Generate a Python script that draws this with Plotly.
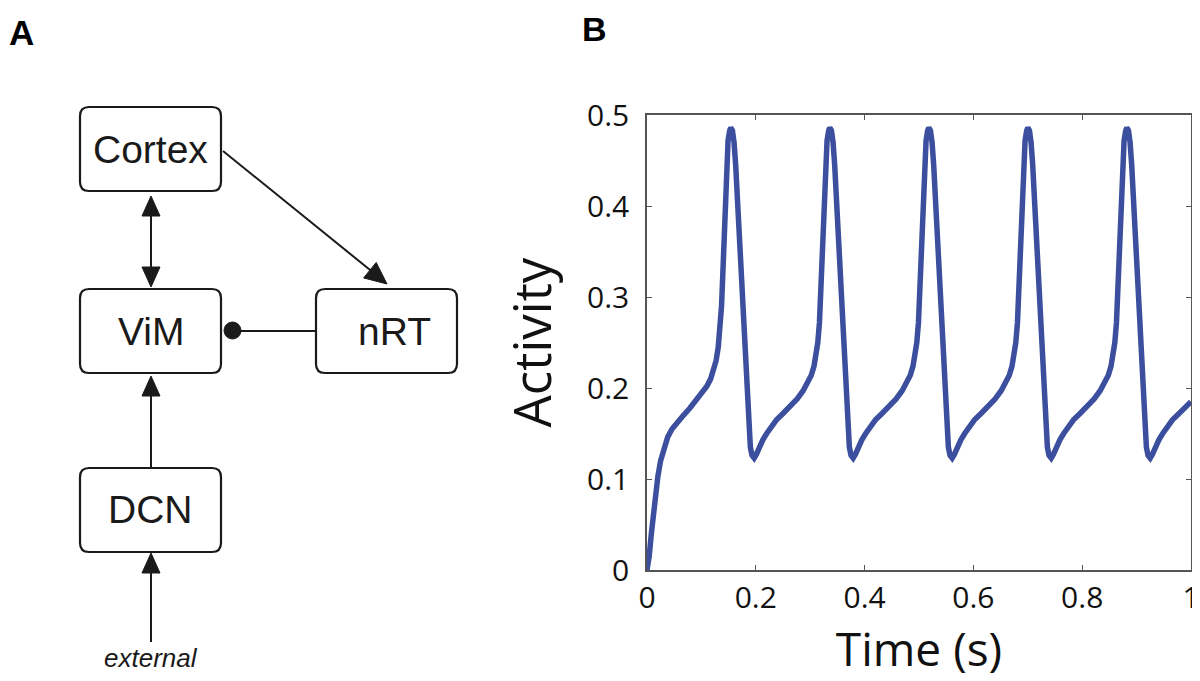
"""
Figura: A) esquema del circuito cerebelo-tálamo-cortical, B) actividad de ViM en el tiempo
"""

import plotly.graph_objects as go

W, H = 1200, 681
OFF = 8  # margen del <body> en la página

# ---- datos del panel B ----
time_s = [
    0.000, 0.004, 0.008, 0.012, 0.016, 0.020, 0.025, 0.031, 0.038, 0.046,
    0.056, 0.067, 0.079, 0.091, 0.102, 0.110, 0.117, 0.122, 0.127, 0.131,
    0.134, 0.137, 0.139, 0.1415, 0.144, 0.1465, 0.149, 0.152, 0.154, 0.157,
    0.160, 0.163, 0.167, 0.171, 0.175, 0.179, 0.183, 0.187, 0.190, 0.193,
    0.197, 0.201, 0.206, 0.213, 0.220, 0.229, 0.238, 0.250, 0.263, 0.276,
    0.287, 0.295, 0.302, 0.307, 0.311, 0.314, 0.317, 0.319, 0.321, 0.323,
    0.326, 0.3285, 0.331, 0.334, 0.336, 0.339, 0.342, 0.345, 0.349, 0.353,
    0.357, 0.361, 0.365, 0.369, 0.372, 0.375, 0.379, 0.383, 0.388, 0.395,
    0.402, 0.411, 0.420, 0.432, 0.445, 0.458, 0.469, 0.477, 0.484, 0.489,
    0.493, 0.496, 0.499, 0.501, 0.503, 0.505, 0.508, 0.5105, 0.513, 0.516,
    0.518, 0.521, 0.524, 0.527, 0.531, 0.535, 0.539, 0.543, 0.547, 0.551,
    0.554, 0.557, 0.561, 0.565, 0.570, 0.577, 0.584, 0.593, 0.602, 0.614,
    0.627, 0.640, 0.651, 0.659, 0.666, 0.671, 0.675, 0.678, 0.681, 0.683,
    0.685, 0.687, 0.690, 0.6925, 0.695, 0.698, 0.700, 0.703, 0.706, 0.709,
    0.713, 0.717, 0.721, 0.725, 0.729, 0.733, 0.736, 0.739, 0.743, 0.747,
    0.752, 0.759, 0.766, 0.775, 0.784, 0.796, 0.809, 0.822, 0.833, 0.841,
    0.848, 0.853, 0.857, 0.860, 0.863, 0.865, 0.867, 0.869, 0.872, 0.8745,
    0.877, 0.880, 0.882, 0.885, 0.888, 0.891, 0.895, 0.899, 0.903, 0.907,
    0.911, 0.915, 0.918, 0.921, 0.925, 0.929, 0.934, 0.941, 0.948, 0.957,
    0.966, 0.978, 0.991, 1.000,
]
activity = [
    0.000, 0.015, 0.040, 0.062, 0.085, 0.103, 0.120, 0.134, 0.146, 0.155,
    0.163, 0.170, 0.178, 0.187, 0.195, 0.202, 0.210, 0.218, 0.230, 0.245,
    0.265, 0.290, 0.320, 0.360, 0.405, 0.450, 0.472, 0.483, 0.486, 0.483,
    0.470, 0.445, 0.400, 0.355, 0.300, 0.245, 0.195, 0.155, 0.135, 0.126,
    0.123, 0.127, 0.135, 0.143, 0.150, 0.158, 0.165, 0.172, 0.180, 0.188,
    0.197, 0.205, 0.214, 0.224, 0.236, 0.250, 0.272, 0.300, 0.330, 0.360,
    0.405, 0.450, 0.472, 0.483, 0.486, 0.483, 0.470, 0.445, 0.400, 0.355,
    0.300, 0.245, 0.195, 0.155, 0.135, 0.126, 0.123, 0.127, 0.135, 0.143,
    0.150, 0.158, 0.165, 0.172, 0.180, 0.188, 0.197, 0.205, 0.214, 0.224,
    0.236, 0.250, 0.272, 0.300, 0.330, 0.360, 0.405, 0.450, 0.472, 0.483,
    0.486, 0.483, 0.470, 0.445, 0.400, 0.355, 0.300, 0.245, 0.195, 0.155,
    0.135, 0.126, 0.123, 0.127, 0.135, 0.143, 0.150, 0.158, 0.165, 0.172,
    0.180, 0.188, 0.197, 0.205, 0.214, 0.224, 0.236, 0.250, 0.272, 0.300,
    0.330, 0.360, 0.405, 0.450, 0.472, 0.483, 0.486, 0.483, 0.470, 0.445,
    0.400, 0.355, 0.300, 0.245, 0.195, 0.155, 0.135, 0.126, 0.123, 0.127,
    0.135, 0.143, 0.150, 0.158, 0.165, 0.172, 0.180, 0.188, 0.197, 0.205,
    0.214, 0.224, 0.236, 0.250, 0.272, 0.300, 0.330, 0.360, 0.405, 0.450,
    0.472, 0.483, 0.486, 0.483, 0.470, 0.445, 0.400, 0.355, 0.300, 0.245,
    0.195, 0.155, 0.135, 0.126, 0.123, 0.127, 0.135, 0.143, 0.150, 0.158,
    0.165, 0.172, 0.180, 0.185,
]
x_ticks = [0, 0.2, 0.4, 0.6, 0.8, 1]
x_ticktext = ["0", "0.2", "0.4", "0.6", "0.8", "1"]
y_ticks = [0, 0.1, 0.2, 0.3, 0.4, 0.5]
y_ticktext = ["0", "0.1", "0.2", "0.3", "0.4", "0.5"]

# ---- panel A: nodos del esquema ----
node_names = ["Cortex", "ViM", "nRT", "DCN"]

LINE_BLUE = "#3b4f9e"
INK = "#1a1a1a"
TICK_FONT = "Open Sans"
DIAG_FONT = "Liberation Sans, Arial"


def px(x):
    return (x - OFF) / W


def py(y):
    return (H - (y - OFF)) / H


# posición de cada caja en pixeles (x0, y0, x1, y1) y desplazamiento del texto
boxes = {
    "Cortex": (80, 107, 221, 191, 0),
    "ViM": (80, 289, 221, 373, 0),
    "nRT": (316, 289, 457, 373, 8),
    "DCN": (80, 468, 221, 552, 0),
}


def rounded_box(x0, y0, x1, y1, r=9):
    X0, X1 = px(x0), px(x1)
    Y0, Y1 = py(y0), py(y1)
    rx, ry = r / W, r / H
    path = (
        f"M {X0 + rx},{Y0} L {X1 - rx},{Y0} Q {X1},{Y0} {X1},{Y0 - ry} "
        f"L {X1},{Y1 + ry} Q {X1},{Y1} {X1 - rx},{Y1} "
        f"L {X0 + rx},{Y1} Q {X0},{Y1} {X0},{Y1 + ry} "
        f"L {X0},{Y0 - ry} Q {X0},{Y0} {X0 + rx},{Y0} Z"
    )
    return dict(type="path", path=path, xref="paper", yref="paper",
                line=dict(color=INK, width=2.2), fillcolor="white", layer="above")


def segment(x0, y0, x1, y1):
    return dict(type="line", xref="paper", yref="paper",
                x0=px(x0), y0=py(y0), x1=px(x1), y1=py(y1),
                line=dict(color=INK, width=2), layer="above")


def arrow_head(xt, yt, xf, yf, length=20, half=9):
    # triángulo relleno con la punta en (xt, yt), orientado desde (xf, yf)
    dx, dy = xt - xf, yt - yf
    n = (dx ** 2 + dy ** 2) ** 0.5
    ux, uy = dx / n, dy / n
    bx, by = xt - ux * length, yt - uy * length
    p1 = (bx - uy * half, by + ux * half)
    p2 = (bx + uy * half, by - ux * half)
    path = (f"M {px(xt)},{py(yt)} L {px(p1[0])},{py(p1[1])} "
            f"L {px(p2[0])},{py(p2[1])} Z")
    return dict(type="path", path=path, xref="paper", yref="paper",
                line=dict(color=INK, width=1), fillcolor=INK, layer="above")


fig = go.Figure()

fig.add_trace(go.Scatter(
    x=time_s,
    y=activity,
    mode="lines",
    line=dict(color=LINE_BLUE, width=5.5),
    showlegend=False,
    hovertemplate="t=%{x:.3f} s<br>Activity=%{y:.3f}<extra></extra>",
))

shapes = []
annotations = []

for name in node_names:
    x0, y0, x1, y1, off = boxes[name]
    shapes.append(rounded_box(x0, y0, x1, y1))
    annotations.append(dict(
        text=name, xref="paper", yref="paper",
        x=px((x0 + x1) / 2 + off), y=py((y0 + y1) / 2),
        xanchor="center", yanchor="middle", showarrow=False,
        font=dict(family=DIAG_FONT, size=39, color=INK),
    ))

# Cortex -> nRT
shapes.append(segment(223, 151, 380, 278))
shapes.append(arrow_head(387, 284, 223, 151, length=22, half=10))
# Cortex <-> ViM
shapes.append(segment(151, 210, 151, 273))
shapes.append(arrow_head(151, 196, 151, 287))
shapes.append(arrow_head(151, 287, 151, 196))
# DCN -> ViM
shapes.append(segment(151, 468, 151, 390))
shapes.append(arrow_head(151, 376, 151, 468))
# external -> DCN
shapes.append(segment(151, 642, 151, 566))
shapes.append(arrow_head(151, 553, 151, 642))
# nRT -| ViM (inhibitoria)
shapes.append(segment(316, 331, 232, 331))
shapes.append(dict(type="circle", xref="paper", yref="paper",
                   x0=px(224), x1=px(241), y0=py(322), y1=py(339),
                   fillcolor=INK, line=dict(color=INK, width=1), layer="above"))

annotations.append(dict(
    text="<i>external</i>", xref="paper", yref="paper",
    x=px(151), y=py(658), xanchor="center", yanchor="middle", showarrow=False,
    font=dict(family=DIAG_FONT, size=26, color=INK),
))

# etiquetas de panel
annotations.append(dict(
    text="<b>A</b>", xref="paper", yref="paper",
    x=px(21), y=py(32), xanchor="center", yanchor="middle", showarrow=False,
    font=dict(family=DIAG_FONT, size=35, color="black"),
))
annotations.append(dict(
    text="<b>B</b>", xref="paper", yref="paper",
    x=px(594), y=py(OFF + 0.5), xanchor="center", yanchor="top", showarrow=False,
    borderpad=0,
    font=dict(family=DIAG_FONT, size=34, color="black"),
))

fig.update_layout(
    width=W,
    height=H,
    margin=dict(l=0, r=0, t=0, b=0),
    paper_bgcolor="white",
    plot_bgcolor="white",
    shapes=shapes,
    annotations=annotations,
    showlegend=False,
)

fig.update_xaxes(
    domain=[px(647), px(1191)],
    range=[0, 1],
    tickvals=x_ticks,
    ticktext=x_ticktext,
    ticks="inside",
    ticklen=5,
    tickcolor="#555",
    showline=True,
    linecolor="#555",
    linewidth=1.5,
    mirror="ticks",
    showgrid=False,
    zeroline=False,
    automargin=False,
    ticklabelstandoff=0,
    tickfont=dict(family=TICK_FONT, size=30, color="#111"),
    title=dict(text="Time (s)", standoff=4,
               font=dict(family=TICK_FONT, size=46, color="#111")),
)
fig.update_yaxes(
    domain=[py(570), py(115)],
    range=[0, 0.5],
    tickvals=y_ticks,
    ticktext=y_ticktext,
    ticks="inside",
    ticklen=5,
    tickcolor="#555",
    showline=True,
    linecolor="#555",
    linewidth=1.5,
    mirror="ticks",
    showgrid=False,
    zeroline=False,
    automargin=False,
    ticklabelstandoff=10,
    tickfont=dict(family=TICK_FONT, size=30, color="#111"),
    title=dict(text="Activity", standoff=19,
               font=dict(family=TICK_FONT, size=51, color="#111")),
)

fig.write_html("out.html")
